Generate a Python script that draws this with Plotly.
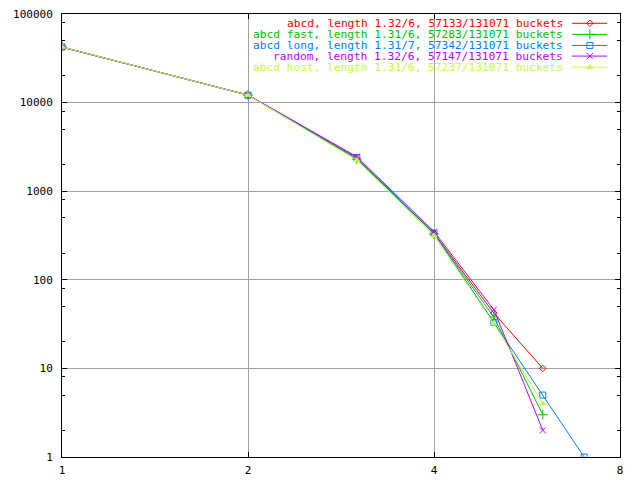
import plotly.graph_objects as go

lengths = [1, 2, 3, 4, 5, 6, 7]
names = [
    "abcd, length 1.32/6, 57133/131071 buckets",
    "abcd fast, length 1.31/6, 57283/131071 buckets",
    "abcd long, length 1.31/7, 57342/131071 buckets",
    "random, length 1.32/6, 57147/131071 buckets",
    "abcd host, length 1.31/6, 57237/131071 buckets",
]
abcd = [42216, 12200, 2330, 335, 42, 10]
abcd_fast = [42462, 12150, 2300, 330, 38, 3]
abcd_long = [42468, 12100, 2400, 335, 33, 5, 1]
random_h = [42099, 12200, 2450, 350, 46, 2]
abcd_host = [42486, 12150, 2250, 315, 32, 4]
series = [abcd, abcd_fast, abcd_long, random_h, abcd_host]

colors = ["#ff0000", "#00c000", "#0080ff", "#c000ff", "#c0ff40"]
symbols = ["diamond-open", "cross-thin-open", "square-open", "x-thin-open", "triangle-up"]
msizes = [5, 7, 6, 6, 5]

x_ticks = [1, 2, 4, 8]
y_ticks = [1, 10, 100, 1000, 10000, 100000]
y_minor = [m * 10 ** e for e in range(0, 5) for m in (2, 5, 8)]

FONT = "DejaVu Sans Mono"
fig = go.Figure()
for name, vals, c, s, ms in zip(names, series, colors, symbols, msizes):
    fig.add_trace(go.Scatter(
        x=lengths[:len(vals)], y=vals, mode="lines+markers", name=name,
        line=dict(color=c, width=1),
        marker=dict(symbol=s, size=ms, color=c, line=dict(color=c, width=1)),
        showlegend=False))

# legend (gnuplot style: text right aligned, sample to the right)
row_y = [0.979, 0.954, 0.929, 0.905, 0.880]
for name, c, s, ms, ry in zip(names, colors, symbols, msizes, row_y):
    fig.add_annotation(x=0.901, y=ry, xref="paper", yref="paper", text=name,
                       showarrow=False, xanchor="right", yanchor="middle",
                       font=dict(family=FONT, size=11.2, color=c))
    fig.add_trace(go.Scatter(x=[0.914, 0.977], y=[ry, ry], xaxis="x2", yaxis="y2",
                             mode="lines", line=dict(color=c, width=1),
                             showlegend=False, hoverinfo="skip"))
    fig.add_trace(go.Scatter(x=[0.946], y=[ry], xaxis="x2", yaxis="y2",
                             mode="markers",
                             marker=dict(symbol=s, size=ms, color=c, line=dict(color=c, width=1)),
                             showlegend=False, hoverinfo="skip"))

fig.update_layout(
    width=640, height=480,
    margin=dict(l=54, r=28, t=6, b=31, autoexpand=False),
    paper_bgcolor="white", plot_bgcolor="white",
    font=dict(family=FONT, size=11, color="black"),
    xaxis=dict(type="log", range=[0, 0.90309], tickvals=x_ticks,
               ticktext=[str(v) for v in x_ticks], automargin=False,
               ticklabeloverflow="allow",
               showline=True, linecolor="black", linewidth=1, mirror="allticks",
               ticks="inside", ticklen=5, tickcolor="black",
               showgrid=True, gridcolor="#a0a0a0", gridwidth=1, zeroline=False,
               ticklabelstandoff=3),
    yaxis=dict(type="log", range=[0, 5], tickvals=y_ticks,
               ticktext=[str(v) for v in y_ticks], automargin=False,
               ticklabeloverflow="allow",
               showline=True, linecolor="black", linewidth=1, mirror="allticks",
               ticks="inside", ticklen=5, tickcolor="black",
               showgrid=True, gridcolor="#a0a0a0", gridwidth=1, zeroline=False,
               ticklabelstandoff=6,
               minor=dict(tickvals=y_minor, ticks="inside", ticklen=3,
                          tickcolor="black", showgrid=False)),
    xaxis2=dict(overlaying="x", range=[0, 1], visible=False, anchor="y2",
                automargin=False),
    yaxis2=dict(overlaying="y", range=[0, 1], visible=False, anchor="x2",
                automargin=False),
)
fig.write_html("out.html")
